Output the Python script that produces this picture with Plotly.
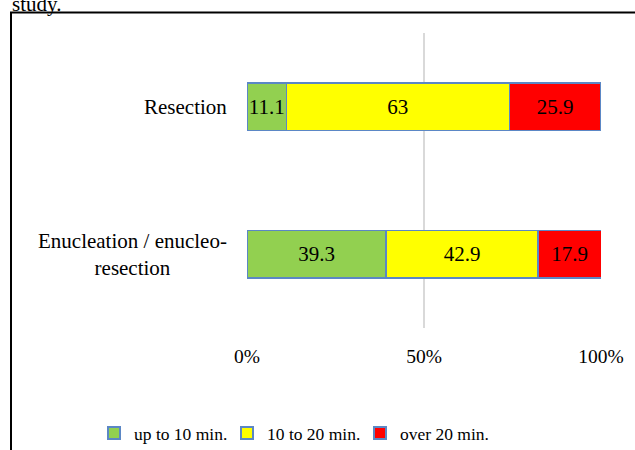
import plotly.graph_objects as go

categories = ["Enucleation / enucleo-<br>resection", "Resection"]
series_names = ["up to 10 min.", "10 to 20 min.", "over 20 min."]
up_to_10 = [39.3, 11.1]
ten_to_20 = [42.9, 63]
over_20 = [17.9, 25.9]
colors = ["#92D050", "#FFFF00", "#FF0000"]
tick_vals = [0, 50, 100]
tick_text = ["0%", "50%", "100%"]

FONT = "Liberation Serif, Times New Roman, serif"
W, H = 635, 450
L, R, T, B = 247, 34, 33, 122
pw, ph = W - L - R, H - T - B

def px_x(p):
    return (p - L) / pw

def px_y(p):
    return (H - B - p) / ph

fig = go.Figure()
ypos = list(range(len(categories)))
for name, vals, col in zip(series_names, [up_to_10, ten_to_20, over_20], colors):
    fig.add_trace(go.Bar(
        y=ypos, x=vals, name=name, orientation="h",
        marker=dict(color=col, line=dict(color="#5B87C5", width=1.5)),
        text=[f"{v:g}" for v in vals], textposition="inside", textangle=0,
        insidetextanchor="middle", constraintext="none",
        textfont=dict(family=FONT, size=21, color="black"),
        hoverinfo="skip",
    ))

for i, c in enumerate(categories):
    fig.add_annotation(x=px_x(229), xref="paper", y=i, yref="y", text=c,
                       showarrow=False, xanchor="right", yanchor="middle",
                       align="center", font=dict(family=FONT, size=21, color="black"))

fig.add_annotation(x=px_x(10), xref="paper", y=px_y(18), yref="paper", text="study.",
                   showarrow=False, xanchor="left", yanchor="bottom",
                   font=dict(family=FONT, size=21, color="black"))

fig.add_shape(type="rect", xref="paper", yref="paper",
              x0=px_x(11), x1=px_x(660), y0=px_y(12.5), y1=px_y(480),
              line=dict(color="black", width=2), fillcolor="rgba(0,0,0,0)", layer="above")

fig.update_layout(
    width=W, height=H, barmode="stack", bargap=0.68,
    margin=dict(l=L, r=R, t=T, b=B, pad=0, autoexpand=False),
    paper_bgcolor="white", plot_bgcolor="white",
    font=dict(family=FONT, size=20, color="black"),
    showlegend=True,
    legend=dict(orientation="h", x=px_x(94), xanchor="left",
                y=px_y(433), yanchor="middle", entrywidth=88, entrywidthmode="pixels",
                font=dict(family=FONT, size=17.5, color="black"), traceorder="normal",
                itemsizing="constant", tracegroupgap=0),
    xaxis=dict(range=[0, 100], tickvals=tick_vals, ticktext=tick_text,
               showgrid=True, gridcolor="#D9D9D9", gridwidth=1.5, zeroline=False,
               showline=False, ticks="", ticklabelstandoff=14,
               tickfont=dict(family=FONT, size=19.5, color="black")),
    yaxis=dict(range=[-0.5, 1.5], showticklabels=False, showgrid=False, zeroline=False,
               showline=False, ticks=""),
)

fig.write_html("out.html", config={"displayModeBar": False},
               post_script="document.body.style.margin='0';")
